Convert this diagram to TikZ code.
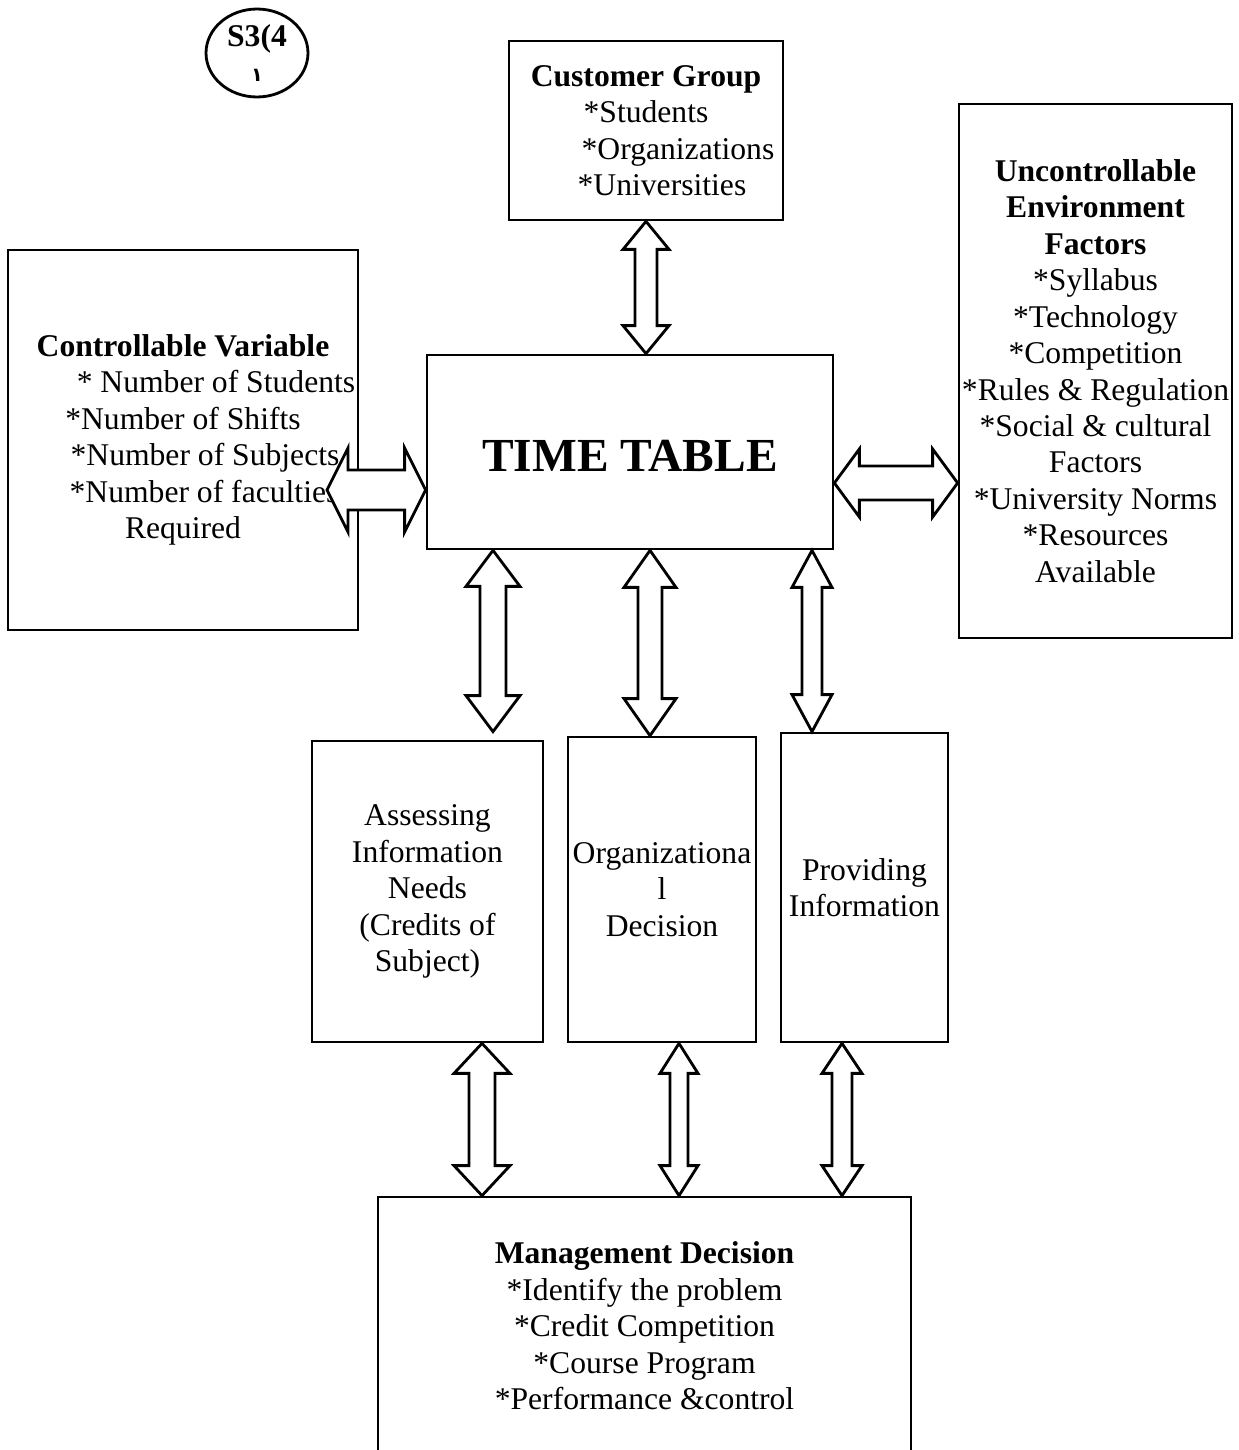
\documentclass[tikz,border=0pt]{standalone}
\usepackage{fontspec}
\setmainfont{Liberation Serif}
\newfontfamily\arabicfont[Script=Arabic]{DejaVu Sans}
\TeXXeTstate=1
\usetikzlibrary{calc,shapes.geometric}
\tikzset{
  box/.style={draw,line width=1.6pt,inner sep=0pt,align=center},
  blockarrow/.style={draw,fill=white,line width=1.6pt,line join=miter}
}
% double block arrow: tips #1 and #2, shaft half width #3, head half width #4, head length #5 (px)
\newcommand\twoway[5]{%
  \path ($(#1)!#5*0.02cm!(#2)$) coordinate (h1) ($(#2)!#5*0.02cm!(#1)$) coordinate (h2);
  \draw[blockarrow] (#1) -- ($(h1)!#4*0.02cm!90:(#2)$) -- ($(h1)!#3*0.02cm!90:(#2)$)
    -- ($(h2)!#3*0.02cm!-90:(#1)$) -- ($(h2)!#4*0.02cm!-90:(#1)$) -- (#2)
    -- ($(h2)!#4*0.02cm!90:(#1)$) -- ($(h2)!#3*0.02cm!90:(#1)$)
    -- ($(h1)!#3*0.02cm!-90:(#2)$) -- ($(h1)!#4*0.02cm!-90:(#2)$) -- cycle;}
\begin{document}
\begin{tikzpicture}[x=0.02cm,y=-0.02cm,font=\fontsize{18}{20.75}\selectfont]
\useasboundingbox (0,0) rectangle (1238,1450);
\node[box,ellipse,minimum width=2.04cm,minimum height=1.76cm] (tag) at (257,53) {\textbf{S3(4}\\[-1pt]{\arabicfont\bfseries\fontsize{11}{11}\selectfont\beginR ١\endR}};
\node[box,minimum width=5.48cm,minimum height=3.58cm] (cust) at (646,130.5) {\textbf{Customer Group}\\{*}Students\\\hspace*{1.28cm}{*}Organizations\\\hspace*{0.64cm}{*}Universities};
\node[box,minimum width=5.46cm,minimum height=10.68cm] (unctrl) at (1095.5,371) {\textbf{Uncontrollable}\\\textbf{Environment}\\\textbf{Factors}\\{*}Syllabus\\{*}Technology\\{*}Competition\\{*}Rules \& Regulation\\{*}Social \& cultural\\Factors\\{*}University Norms\\{*}Resources\\Available};
\node[box,minimum width=7cm,minimum height=7.6cm] (ctrl) at (183,440) {\textbf{Controllable Variable}\\\hspace*{1.32cm}{*} Number of Students\\{*}Number of Shifts\\\hspace*{0.88cm}{*}Number of Subjects\\\hspace*{0.84cm}{*}Number of faculties\\Required};
\node[box,minimum width=8.12cm,minimum height=3.88cm,text height=22.5pt,text depth=0pt,font=\fontsize{27}{32}\selectfont\bfseries] (tt) at (630,452) {TIME TABLE};
\node[box,minimum width=4.62cm,minimum height=6.02cm] (assess) at (427.5,891.5) {Assessing\\Information\\Needs\\(Credits of\\Subject)};
\node[box,minimum width=3.76cm,minimum height=6.1cm] (org) at (662,889.5) {Organizationa\\l\\Decision};
\node[box,minimum width=3.34cm,minimum height=6.18cm] (prov) at (864.5,887.5) {Providing\\Information};
\node[box,minimum width=10.66cm,minimum height=5.16cm] (mgmt) at (644.5,1326) {\textbf{Management Decision}\\{*}Identify the problem\\{*}Credit Competition\\{*}Course Program\\{*}Performance \&control};
\coordinate (ll) at (327,490);
\path (tt.east) ++(0,31) coordinate (rl);
\path (tt.south) ++(-137,0) coordinate (a1) (tt.south) ++(20,0) coordinate (a2) (tt.south) ++(182,0) coordinate (a3);
\path (a1 |- assess.north) ++(0,-8) coordinate (a1e);
\path (assess.south) ++(54.5,0) coordinate (b1) (org.south) ++(17,0) coordinate (b2) (prov.south) ++(-22.5,0) coordinate (b3);
\twoway{cust.south}{cust.south |- tt.north}{11}{23}{28}
\twoway{ll}{ll -| tt.west}{20}{42}{21}
\twoway{rl}{rl -| unctrl.west}{17}{34}{25}
\twoway{a1}{a1e}{13}{27}{36}
\twoway{a2}{a2 |- org.north}{12}{26}{37}
\twoway{a3}{a3 |- prov.north}{10}{20}{37}
\twoway{b1}{b1 |- mgmt.north}{13}{28}{30}
\twoway{b2}{b2 |- mgmt.north}{9}{19}{30}
\twoway{b3}{b3 |- mgmt.north}{10}{20}{30}
\end{tikzpicture}
\end{document}
